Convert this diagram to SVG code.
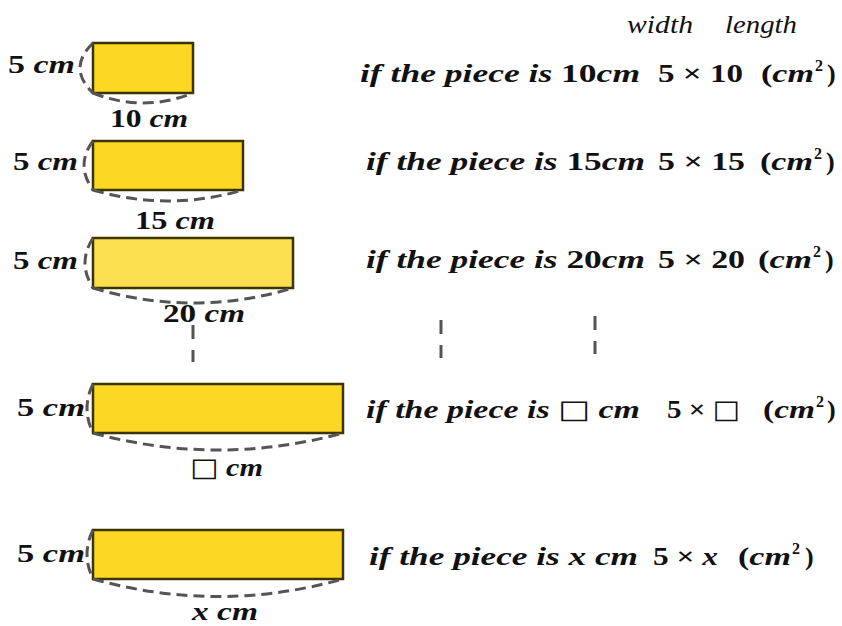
<svg xmlns="http://www.w3.org/2000/svg" width="842" height="626" viewBox="0 0 842 626">
<style>
.bg{fill:#fff}
.piece{fill:#fcd825;stroke:#3b3300;stroke-width:2.5}
.arc{fill:none;stroke:#555;stroke-width:3;stroke-dasharray:11 6}
.vd{fill:none;stroke:#555;stroke-width:3;stroke-dasharray:14 11}
.m{font-family:"Liberation Serif","DejaVu Serif",serif;font-style:italic;font-weight:bold;font-size:26px;fill:#111}
.u{font-style:normal}
.s{font-family:"Liberation Serif","DejaVu Serif",serif;font-style:normal;font-weight:bold;font-size:16px;fill:#111}
.h{font-family:"Liberation Serif","DejaVu Serif",serif;font-style:italic;font-size:26px;fill:#111}
.sq{font-family:"DejaVu Sans",sans-serif;font-style:normal;font-weight:normal}
</style>
<rect class="bg" width="842" height="626"/>
<g id="header">
<text class="h" x="627" y="33" textLength="66" lengthAdjust="spacingAndGlyphs">width</text>
<text class="h" x="725" y="33" textLength="72" lengthAdjust="spacingAndGlyphs">length</text>
</g>
<g id="piece1">
<rect class="piece" x="93" y="43" width="100" height="50"/>
<text class="m" x="8" y="73" textLength="67" lengthAdjust="spacingAndGlyphs"><tspan class="u">5</tspan> cm</text>
<text class="m" x="110" y="127" textLength="78" lengthAdjust="spacingAndGlyphs"><tspan class="u">10</tspan> cm</text>
</g>
<g id="piece2">
<rect class="piece" x="93" y="141" width="150" height="49"/>
<text class="m" x="13" y="170" textLength="65" lengthAdjust="spacingAndGlyphs"><tspan class="u">5</tspan> cm</text>
<text class="m" x="135" y="229" textLength="80" lengthAdjust="spacingAndGlyphs"><tspan class="u">15</tspan> cm</text>
</g>
<g id="piece3">
<rect class="piece" x="93" y="238" width="200" height="50" style="fill:#fde04f"/>
<text class="m" x="13" y="269" textLength="65" lengthAdjust="spacingAndGlyphs"><tspan class="u">5</tspan> cm</text>
<text class="m" x="163" y="322" textLength="82" lengthAdjust="spacingAndGlyphs"><tspan class="u">20</tspan> cm</text>
</g>
<g id="piece4">
<rect class="piece" x="93" y="384" width="250" height="49"/>
<text class="m" x="17" y="416" textLength="68" lengthAdjust="spacingAndGlyphs"><tspan class="u">5</tspan> cm</text>
<text class="m" x="190" y="476" textLength="73" lengthAdjust="spacingAndGlyphs"><tspan class="sq">□</tspan> cm</text>
</g>
<g id="piece5">
<rect class="piece" x="93" y="530" width="250" height="49"/>
<text class="m" x="17" y="562" textLength="68" lengthAdjust="spacingAndGlyphs"><tspan class="u">5</tspan> cm</text>
<text class="m" x="192" y="620" textLength="66" lengthAdjust="spacingAndGlyphs">x cm</text>
</g>
<g id="row1">
<text class="m" x="360" y="82" textLength="280" lengthAdjust="spacingAndGlyphs">if the piece is <tspan class="u">10</tspan>cm</text>
<text class="m u" x="658" y="82" textLength="85" lengthAdjust="spacingAndGlyphs">5 × 10</text>
<text class="m" x="761" y="82" textLength="53" lengthAdjust="spacingAndGlyphs"><tspan class="u">(</tspan>cm</text>
<text class="s" x="815" y="71">2</text>
<text class="m u" x="827" y="82">)</text>
</g>
<g id="row2">
<text class="m" x="366" y="170" textLength="279" lengthAdjust="spacingAndGlyphs">if the piece is <tspan class="u">15</tspan>cm</text>
<text class="m u" x="658" y="170" textLength="87" lengthAdjust="spacingAndGlyphs">5 × 15</text>
<text class="m" x="760" y="170" textLength="53" lengthAdjust="spacingAndGlyphs"><tspan class="u">(</tspan>cm</text>
<text class="s" x="814" y="159">2</text>
<text class="m u" x="826" y="170">)</text>
</g>
<g id="row3">
<text class="m" x="366" y="268" textLength="279" lengthAdjust="spacingAndGlyphs">if the piece is <tspan class="u">20</tspan>cm</text>
<text class="m u" x="658" y="268" textLength="87" lengthAdjust="spacingAndGlyphs">5 × 20</text>
<text class="m" x="758" y="268" textLength="54" lengthAdjust="spacingAndGlyphs"><tspan class="u">(</tspan>cm</text>
<text class="s" x="813" y="257">2</text>
<text class="m u" x="825" y="268">)</text>
</g>
<g id="row4">
<text class="m" x="366" y="418" textLength="274" lengthAdjust="spacingAndGlyphs">if the piece is <tspan class="sq">□</tspan> cm</text>
<text class="m u" x="667" y="418" textLength="73" lengthAdjust="spacingAndGlyphs">5 × <tspan class="sq">□</tspan></text>
<text class="m" x="763" y="418" textLength="52" lengthAdjust="spacingAndGlyphs"><tspan class="u">(</tspan>cm</text>
<text class="s" x="816" y="407">2</text>
<text class="m u" x="827" y="418">)</text>
</g>
<g id="row5">
<text class="m" x="369" y="565" textLength="269" lengthAdjust="spacingAndGlyphs">if the piece is x cm</text>
<text class="m" x="653" y="565" textLength="65" lengthAdjust="spacingAndGlyphs"><tspan class="u">5 ×</tspan> x</text>
<text class="m" x="738" y="565" textLength="53" lengthAdjust="spacingAndGlyphs"><tspan class="u">(</tspan>cm</text>
<text class="s" x="792" y="554">2</text>
<text class="m u" x="805" y="565">)</text>
</g>
<g id="connectors">
<path class="arc" d="M93,43 Q67,68 93,93"/>
<path class="arc" d="M93,93 Q143,113 193,93"/>
<path class="arc" d="M93,141 Q75,165 93,190"/>
<path class="arc" d="M93,190 Q168,212 243,190"/>
<path class="arc" d="M93,238 Q77,263 93,288"/>
<path class="arc" d="M93,288 Q193,318 293,288"/>
<path class="arc" d="M93,384 Q81,408 93,433"/>
<path class="arc" d="M93,433 Q218,467 343,433"/>
<path class="arc" d="M93,530 Q81,554 93,579"/>
<path class="arc" d="M93,579 Q218,614 343,579"/>
<path class="vd" d="M193,325 V362"/>
<path class="vd" d="M441,320 V358"/>
<path class="vd" d="M595,316 V354"/>
</g>
</svg>
